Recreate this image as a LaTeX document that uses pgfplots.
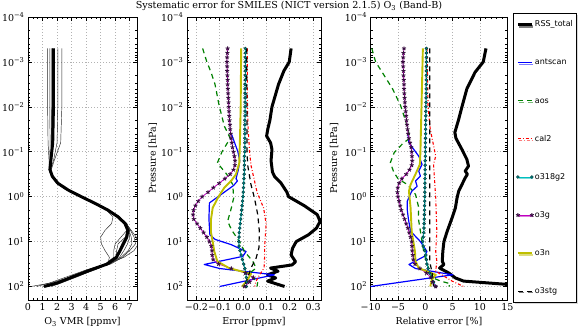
\documentclass[border=0pt]{standalone}
\usepackage{fontspec}
\setmainfont{DejaVu Serif}
\newfontfamily\legfont{DejaVu Sans}
\usepackage{pgfplots}
\pgfplotsset{compat=1.18}
\usepackage{pgfplotstable}
\usetikzlibrary{shadows,plotmarks}

\definecolor{mplblue}{rgb}{0,0,1}
\definecolor{mplgreen}{rgb}{0,0.5,0}
\definecolor{mplred}{rgb}{1,0,0}
\definecolor{mplcyan}{rgb}{0,0.75,0.75}
\definecolor{mplteal}{rgb}{0,0.5,0.5}
\definecolor{mplmagenta}{rgb}{0.75,0,0.75}
\definecolor{mplstar}{rgb}{0.22,0.05,0.25}
\definecolor{mplyellow}{rgb}{0.75,0.75,0}

% O3 VMR profiles: mean (thick) and individual profiles
\pgfplotstableread{
p        mean t1   t2   t3   t4   t5   t6   t7   t8
5.012e-4 1.75 1.35 1.50 2.05 2.33 1.65 1.80 1.70 1.60
0.01     1.75 1.35 1.50 2.05 2.33 1.65 1.80 1.70 1.60
0.0631   1.70 1.38 1.52 2.00 2.25 1.62 1.75 1.68 1.62
0.1585   1.57 1.45 1.50 1.75 1.80 1.55 1.60 1.58 1.60
0.2512   1.51 1.45 1.45 1.55 1.60 1.48 1.52 1.50 1.55
0.3548   1.68 1.62 1.60 1.70 1.72 1.65 1.70 1.66 1.72
0.5012   2.05 2.00 1.95 2.10 2.10 2.00 2.10 2.00 2.10
0.7079   2.75 2.70 2.65 2.80 2.80 2.70 2.80 2.70 2.80
1        3.66 3.60 3.55 3.75 3.70 3.60 3.70 3.65 3.75
1.413    4.62 4.55 4.50 4.70 4.65 4.55 4.70 4.60 4.70
1.995    5.50 5.45 5.40 5.60 5.55 5.40 5.55 5.50 5.60
2.818    6.20 6.15 6.10 6.30 6.25 5.85 6.30 6.20 6.30
3.981    6.68 6.65 6.60 6.80 6.75 5.75 6.80 6.70 6.75
5.623    6.87 6.95 6.80 7.05 7.10 5.30 7.00 6.80 6.95
7.943    6.80 7.10 6.70 7.30 7.45 5.00 6.70 6.40 7.00
11.22    6.57 7.15 6.45 7.40 7.60 5.05 6.20 6.00 6.85
15.85    6.34 6.90 6.25 7.00 7.30 5.30 6.10 5.90 6.60
22.39    6.08 6.40 6.00 6.50 6.60 5.60 6.10 5.90 6.30
31.62    5.45 5.60 5.50 5.70 5.50 5.50 5.60 5.30 5.60
41.69    4.40 4.50 4.60 4.30 4.10 4.70 4.50 4.20 4.50
58.88    3.20 3.30 3.50 3.00 2.80 3.40 3.10 3.00 3.30
83.18    2.03 2.10 2.30 1.90 1.50 2.20 1.60 2.00 2.00
100      1.10 1.30 1.60 1.00 0.60 1.40 0.20 1.30 1.20
}\profiles

% o318g2 and o3g errors on the retrieval grid (absolute ppmv, relative %)
\pgfplotstableread{
p        o318a  o3ga   o318r o3gr
5.012e-4  0.010 -0.066  0.20 -3.90
6.310e-4  0.010 -0.067  0.20 -4.00
7.943e-4  0.010 -0.068  0.20 -4.05
1.000e-3  0.010 -0.069  0.20 -4.10
1.259e-3  0.010 -0.068  0.19 -4.05
1.585e-3  0.010 -0.068  0.19 -4.00
1.995e-3  0.010 -0.067  0.18 -4.00
2.512e-3  0.010 -0.066  0.18 -3.95
3.162e-3  0.009 -0.066  0.17 -3.90
3.981e-3  0.009 -0.065  0.16 -3.90
5.012e-3  0.009 -0.064  0.15 -3.85
6.310e-3  0.009 -0.063  0.14 -3.80
7.943e-3  0.009 -0.062  0.12 -3.75
1.000e-2  0.009 -0.061  0.10 -3.70
1.259e-2  0.009 -0.060  0.09 -3.60
1.585e-2  0.009 -0.059  0.08 -3.50
1.995e-2  0.008 -0.058  0.07 -3.45
2.512e-2  0.008 -0.056  0.06 -3.35
3.162e-2  0.008 -0.055  0.05 -3.25
3.981e-2  0.008 -0.053  0.04 -3.15
5.012e-2  0.008 -0.051  0.03 -3.00
6.310e-2  0.008 -0.048  0.02 -2.80
7.943e-2  0.008 -0.045  0.01 -2.60
0.1000    0.008 -0.041  0.00 -2.50
0.1259    0.006 -0.037  0.00 -2.45
0.1585    0.006 -0.034 -0.02 -2.40
0.1995    0.006 -0.035 -0.03 -2.50
0.2512    0.006 -0.041 -0.04 -2.90
0.3162    0.005 -0.055 -0.05 -3.50
0.3981    0.004 -0.078 -0.06 -4.30
0.5012    0.003 -0.102 -0.07 -4.80
0.6310    0.002 -0.127 -0.08 -5.05
0.7943    0.001 -0.150 -0.09 -5.10
1.000     0.000 -0.175 -0.10 -5.00
1.259    -0.002 -0.192 -0.12 -4.80
1.585    -0.004 -0.204 -0.14 -4.60
1.995    -0.006 -0.212 -0.16 -4.40
2.512    -0.008 -0.214 -0.18 -4.10
3.162    -0.010 -0.211 -0.20 -3.80
3.981    -0.012 -0.197 -0.23 -3.50
5.012    -0.014 -0.183 -0.26 -3.20
6.310    -0.016 -0.169 -0.30 -2.95
7.943    -0.017 -0.155 -0.40 -2.70
10.00    -0.018 -0.144 -0.50 -2.50
12.59    -0.017 -0.136 -0.40 -2.45
15.85    -0.013 -0.133 -0.10 -2.40
19.95    -0.008 -0.132  0.10 -2.30
25.12    -0.003 -0.128  0.20 -2.20
31.62     0.003 -0.105  0.30 -1.90
39.81     0.008 -0.050  0.50 -1.00
50.12     0.012  0.010  0.80  0.20
63.10     0.014  0.045  1.10  1.00
79.43     0.016  0.028  1.50  1.30
100.0     0.014  0.006  1.90  1.90
}\markrows

% settings shared by the three pressure panels
\pgfplotsset{
  every axis/.append style={
    scale only axis, anchor=south west, height=283pt,
    ymode=log, y dir=reverse, ymin=1e-4, ymax=200,
    ytick={1e-4,1e-3,1e-2,1e-1,1,10,100},
    yticklabels={10\textsuperscript{−4},10\textsuperscript{−3},10\textsuperscript{−2},10\textsuperscript{−1},10\textsuperscript{0},10\textsuperscript{1},10\textsuperscript{2}},
    minor ytick={2e-4,3e-4,4e-4,5e-4,6e-4,7e-4,8e-4,9e-4,2e-3,3e-3,4e-3,5e-3,6e-3,7e-3,8e-3,9e-3,0.02,0.03,0.04,0.05,0.06,0.07,0.08,0.09,0.2,0.3,0.4,0.5,0.6,0.7,0.8,0.9,2,3,4,5,6,7,8,9,20,30,40,50,60,70,80,90,200},
    xmajorgrids, ymajorgrids,
    major grid style={gray!60, line width=0.5pt, dash pattern=on 1pt off 2pt},
    axis line style={line width=0.9pt},
    major tick length=4pt, minor tick length=2pt,
    tick style={black, line width=0.5pt},
    tick label style={font=\fontsize{9.5}{11}\selectfont},
    label style={font=\fontsize{9.5}{11}\selectfont},
    xlabel style={at={(axis description cs:0.5,-0.077)}, anchor=center},
  },
}

\begin{document}
\begin{tikzpicture}
\path[use as bounding box] (0,0) rectangle (579pt,330pt);
\node[font=\fontsize{9.6}{11}\selectfont] at (289pt,324pt)
  {Systematic error for SMILES (NICT version 2.1.5) O\textsubscript{3} (Band-B)};

% ---- O3 VMR profiles ----
\begin{axis}[at={(28pt,30pt)}, width=109pt,
  xmin=0, xmax=7.5, xtick={0,1,2,3,4,5,6,7},
  xticklabels={0,1,2,3,4,5,6,7}, minor x tick num=2,
  xlabel={O\textsubscript{3} VMR [ppmv]}]
\addplot[black!85, line width=0.45pt] table[x=t1,y=p] {\profiles};
\addplot[black!85, line width=0.45pt] table[x=t2,y=p] {\profiles};
\addplot[black!85, line width=0.45pt] table[x=t3,y=p] {\profiles};
\addplot[black!85, line width=0.45pt] table[x=t4,y=p] {\profiles};
\addplot[black!85, line width=0.45pt] table[x=t5,y=p] {\profiles};
\addplot[black!85, line width=0.45pt] table[x=t6,y=p] {\profiles};
\addplot[black!85, line width=0.45pt] table[x=t7,y=p] {\profiles};
\addplot[black!85, line width=0.45pt] table[x=t8,y=p] {\profiles};
\addplot[black, line width=3pt, line join=round] table[x=mean,y=p] {\profiles};
\end{axis}

% ---- absolute error ----
\begin{axis}[at={(187pt,30pt)}, width=134pt,
  xmin=-0.24, xmax=0.334, xtick={-0.2,-0.1,0,0.1,0.2,0.3},
  xticklabels={−0.2,−0.1,0.0,0.1,0.2,0.3}, minor x tick num=4,
  xlabel={Error [ppmv]}, ylabel={Pressure [hPa]},
  ylabel style={at={(axis description cs:-0.254,0.5)}, anchor=center}]
\addplot[black, line width=3pt, line join=round] coordinates {(0.206,5.012e-4) (0.198,1e-3) (0.175,1.585e-3) (0.152,3.162e-3)
  (0.124,0.01) (0.115,0.01995) (0.106,0.03162) (0.101,0.04467) (0.118,0.0631) (0.124,0.08913)
  (0.120,0.1585) (0.126,0.2818) (0.135,0.3548) (0.163,0.5012) (0.188,0.7943) (0.195,1)
  (0.262,1.585) (0.318,2.512) (0.330,3.548) (0.315,5.012) (0.280,7.079) (0.228,10)
  (0.212,14.13) (0.206,19.95) (0.225,28.18) (0.21,33.11) (0.118,38.90) (0.15,45.71)
  (0.105,54.95) (0.14,64.57) (0.105,75.86) (0.178,100)};
\addplot[mplblue, line width=1.2pt, line join=round] coordinates {(-0.050,0.03981) (-0.036,0.0631) (-0.022,0.1) (-0.014,0.1585)
  (-0.020,0.2512) (-0.030,0.3981) (-0.024,0.4467) (-0.040,0.5623) (-0.144,1.380)
  (-0.146,3.162) (-0.142,7.079) (-0.12,8.913) (-0.05,11.75) (0.013,16.6) (-0.001,21.38)
  (-0.166,32.36) (-0.10,39.81) (0.134,54.95) (-0.10,100)};
\addplot[mplgreen, line width=1.2pt, dash pattern=on 5pt off 4pt] coordinates {(-0.173,5.012e-4) (-0.155,1e-3) (-0.137,1.698e-3) (-0.12,3.162e-3)
  (-0.102,9.55e-3) (-0.08,0.02692) (-0.055,0.05012) (-0.09,0.1) (-0.11,0.1778) (-0.07,0.3162)
  (-0.044,0.537) (-0.04,1.072) (-0.05,1.778) (-0.066,3.548) (-0.048,5.623) (-0.015,10)
  (0.006,16.6) (0.042,27.54) (0.056,38.9) (0.034,47.86) (0.04,64.57) (0.063,79.43) (0.06,100)};
\addplot[mplred, line width=1.1pt, dash pattern=on 3pt off 2pt on 0.8pt off 2pt] coordinates {(0.018,5.012e-4) (0.019,0.01) (0.022,0.03162) (0.028,0.1)
  (0.034,0.1995) (0.06,0.7943) (0.088,1.778) (0.099,3.981) (0.093,11.75) (0.092,27.54)
  (0.09,38.9) (0.07,56.23) (0.056,75.86) (0.05,100)};
\addplot[mplcyan, line width=1pt, mark=*, mark size=1.5pt,
    mark options={fill=mplteal, draw=black!60!mplteal, line width=0.4pt}]
  table[x=o318a,y=p] {\markrows};
\addplot[mplmagenta, line width=0.8pt, mark=star, mark size=2.1pt,
    mark options={draw=mplstar, line width=0.9pt}]
  table[x=o3ga,y=p] {\markrows};
\addplot[mplyellow, line width=1.9pt, line join=round] coordinates {(-0.008,5.012e-4) (-0.010,0.01) (-0.013,0.05012) (-0.016,0.1778)
  (-0.03,0.3162) (-0.051,0.4467) (-0.08,0.631) (-0.105,1) (-0.13,1.778) (-0.137,3.162)
  (-0.137,6.31) (-0.13,10) (-0.123,16.6) (-0.11,27.54) (-0.06,38.9) (0.034,52.48)
  (0.02,70.79) (-0.004,100)};
\addplot[black, line width=1.2pt, dash pattern=on 5pt off 4pt] coordinates {(0.016,5.012e-4) (0.017,0.1) (0.02,0.1995) (0.034,0.537)
  (0.049,1.072) (0.063,2.512) (0.07,5.888) (0.068,13.8) (0.056,23.44) (0.034,38.9)
  (0.02,64.57) (0.005,100)};
\end{axis}

% ---- relative error ----
\begin{axis}[at={(370.7pt,30pt)}, width=136.6pt,
  xmin=-10, xmax=15, xtick={-10,-5,0,5,10,15},
  xticklabels={−10,−5,0,5,10,15}, minor x tick num=4,
  xlabel={Relative error [\%]}, ylabel={Pressure [hPa]},
  ylabel style={at={(axis description cs:-0.268,0.5)}, anchor=center},
  legend image code/.code={\draw[#1] plot coordinates {(0pt,0pt) (14pt,0pt)};},
  legend cell align=left,
  legend style={at={(axis description cs:1.0417,1.0141)}, anchor=north west,
    draw=black, line width=0.9pt, fill=white,
    drop shadow={shadow xshift=1.5pt, shadow yshift=-1.5pt, fill=black!30},
    font=\legfont\fontsize{8}{9}\selectfont,
    row sep=28.6pt, inner xsep=2.5pt, inner ysep=6.4pt,
    nodes={inner sep=1pt, text height=6pt, text depth=1.5pt},
    /tikz/every even column/.append style={column sep=6pt}}]
\addplot[black, line width=3pt, line join=round] coordinates {(11.1,5.012e-4) (10.6,1e-3) (9.1,1.698e-3) (7.6,3.981e-3)
  (6.7,0.01) (6.1,0.01905) (5.4,0.03715) (5.6,0.05012) (6.7,0.08913) (7.6,0.1479)
  (7.9,0.2089) (7.3,0.2692) (7.7,0.3162) (7.3,0.3802) (6.7,0.537) (6.1,0.7586) (5.8,1.072)
  (5.5,1.778) (4.9,2.951) (4.0,5.888) (3.4,10) (3.2,16.6) (3.1,27.54) (3.4,32.36)
  (2.6,38.9) (4.3,50.12) (5.5,64.57) (7.0,75.86) (14.6,89.13) (20,100)};
\addlegendentry{\makebox[38pt][l]{RSS\_total}}
\addplot[mplblue, line width=1.2pt, line join=round] coordinates {(-3.2,0.03981) (-3.0,0.0631) (-2.1,0.08913) (-1.2,0.1259)
  (-0.6,0.1905) (-1.2,0.2692) (-0.9,0.3467) (-1.8,0.4467) (-1.5,0.5888) (-2.5,0.7586)
  (-3.3,1.259) (-3.3,1.995) (-3.1,3.162) (-2.7,5.888) (-0.9,10) (0.3,16.6) (-0.2,21.38)
  (-3.0,32.36) (-1.8,39.81) (5.0,54.95) (-10,100)};
\addlegendentry{antscan}
\addplot[mplgreen, line width=1.2pt, dash pattern=on 5pt off 4pt] coordinates {(-9.8,5.012e-4) (-9.1,1e-3) (-7.9,1.698e-3) (-6.0,3.981e-3)
  (-4.5,9.55e-3) (-3.3,0.02692) (-2.8,0.05012) (-4.0,0.0631) (-5.7,0.1047) (-6.4,0.1738)
  (-5.8,0.2818) (-5.0,0.3981) (-3.3,0.537) (-1.8,0.8913) (-1.2,1.778) (-1.3,2.951)
  (-0.9,5.888) (-0.3,16.6) (0.3,32.36) (0.9,45.71) (1.2,63.1) (2.8,75.86) (4.6,87.1) (4.3,100)};
\addlegendentry{aos}
\addplot[mplred, line width=1.1pt, dash pattern=on 3pt off 2pt on 0.8pt off 2pt] coordinates {(0.3,5.012e-4) (0.5,0.01) (0.9,0.03162) (1.9,0.1259) (1.5,0.1905)
  (1.9,1.072) (2.1,5.888) (1.9,16.6) (2.1,27.54) (1.9,45.71) (4.9,75.86) (7.0,100)};
\addlegendentry{cal2}
\addplot[mplcyan, line width=1pt, mark=*, mark size=1.5pt,
    mark options={fill=mplteal, draw=black!60!mplteal, line width=0.4pt}]
  table[x=o318r,y=p] {\markrows};
\addlegendentry{o318g2}
\addplot[mplmagenta, line width=0.8pt, mark=star, mark size=2.1pt,
    mark options={draw=mplstar, line width=0.9pt}]
  table[x=o3gr,y=p] {\markrows};
\addlegendentry{o3g}
\addplot[mplyellow, line width=1.9pt, line join=round] coordinates {(-0.45,5.012e-4) (-0.9,0.1) (-1.0,0.1905) (-1.8,0.3162)
  (-2.7,0.537) (-3.0,0.7586) (-2.7,1.778) (-2.5,5.888) (-1.9,16.6) (-1.8,27.54)
  (-1.2,38.9) (1.9,54.95) (1.2,70.79) (0.9,100)};
\addlegendentry{o3n}
\addplot[black, line width=1.2pt, dash pattern=on 5pt off 4pt] coordinates {(0.8,5.012e-4) (0.8,1) (0.8,27.54) (1.3,54.95) (1.5,100)};
\addlegendentry{o3stg}
\end{axis}
\end{tikzpicture}
\end{document}
